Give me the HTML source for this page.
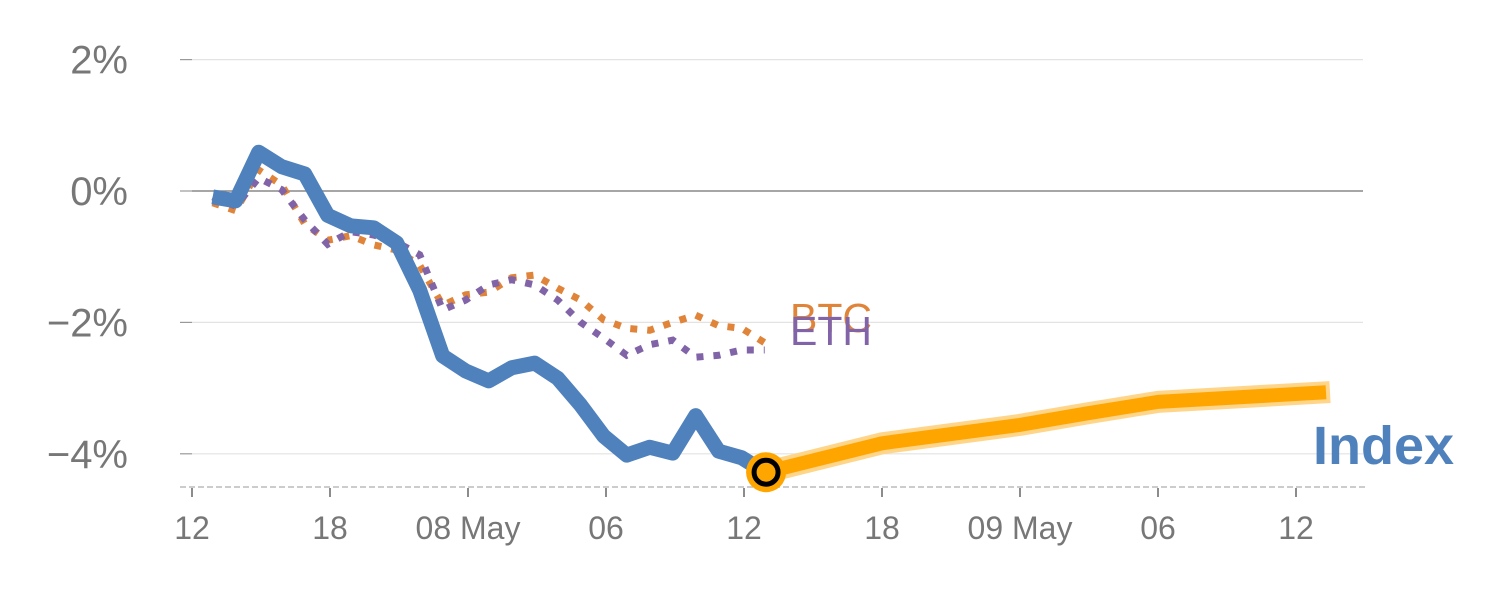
<!DOCTYPE html>
<html><head><meta charset="utf-8"><style>
body{margin:0;background:#fff;}
svg{display:block;font-family:"Liberation Sans",sans-serif;}
</style></head><body>
<svg id="chart" width="1500" height="600" viewBox="0 0 1500 600" xmlns="http://www.w3.org/2000/svg">
<g id="grid"></g>
<g id="xaxis"></g>
<g id="series"></g>
<text x="790" y="332" font-size="41" fill="#e0843a">BTC</text>
<text x="790" y="345" font-size="41" fill="#8163a8">ETH</text>
<text x="1313" y="464" font-size="54" font-weight="bold" fill="#4f81bd">Index</text>
</svg>
<script>
const yTicks=[2,0,-2,-4];
const yTickLabels=["2%","0%","\u22122%","\u22124%"];
const xTicks=[0,6,12,18,24,30,36,42,48];
const xTickLabels=["12","18","08 May","06","12","18","09 May","06","12"];
const indexVals=[-0.09,-0.15,0.59,0.37,0.26,-0.37,-0.53,-0.56,-0.79,-1.51,-2.51,-2.74,-2.89,-2.69,-2.62,-2.85,-3.26,-3.73,-4.02,-3.90,-3.99,-3.42,-3.96,-4.06,-4.28];
const btcVals=[-0.18,-0.30,0.32,0.09,-0.50,-0.75,-0.68,-0.82,-0.90,-1.13,-1.74,-1.58,-1.54,-1.32,-1.28,-1.48,-1.66,-1.96,-2.09,-2.12,-2.00,-1.89,-2.05,-2.09,-2.31];
const ethVals=[-0.09,-0.23,0.20,0.02,-0.44,-0.81,-0.62,-0.67,-0.78,-0.97,-1.81,-1.66,-1.43,-1.35,-1.43,-1.66,-2.00,-2.24,-2.50,-2.34,-2.27,-2.53,-2.50,-2.42,-2.42];
const fcHours=[24.96,30,36,39,42,49.0];
const fcVals=[-4.28,-3.84,-3.56,-3.38,-3.21,-3.07];
const startHour=0.9;
const NS="http://www.w3.org/2000/svg";
const X=h=>192+h*23;
const Y=v=>191-v*65.7;
function mk(tag,attrs,parent){const e=document.createElementNS(NS,tag);for(const k in attrs)e.setAttribute(k,attrs[k]);parent.appendChild(e);return e;}
const grid=document.getElementById('grid'),xa=document.getElementById('xaxis'),ser=document.getElementById('series');
yTicks.forEach((v,i)=>{
  const l=mk('line',{x1:192,x2:1363,y1:Y(v),y2:Y(v),stroke:v===0?'#888':'#e3e3e3','stroke-width':v===0?1.5:1.2},grid);
  
  
  const tk=mk('line',{x1:180,x2:192,y1:Y(v),y2:Y(v),stroke:'#999','stroke-width':1.2},grid);
  
  
  const t=mk('text',{x:128,y:Y(v)+14,'font-size':40,fill:'#777','text-anchor':'end'},grid);
  t.textContent=yTickLabels[i];
  
  
});
const base=mk('line',{x1:180,x2:1365,y1:487,y2:487,stroke:'#ccc','stroke-width':2,'stroke-dasharray':'6,3'},xa);


xTicks.forEach((h,i)=>{
  const tk=mk('line',{x1:X(h),x2:X(h),y1:488,y2:497,stroke:'#666','stroke-width':1.5},xa);
  
  
  const t=mk('text',{x:X(h),y:539,'font-size':32,fill:'#777','text-anchor':'middle'},xa);
  t.textContent=xTickLabels[i];
  
  
});
const pts=vals=>vals.map((v,i)=>X(startHour+i)+','+Y(v)).join(' ');
const btc=mk('polyline',{points:pts(btcVals),fill:'none',stroke:'#e0843a','stroke-width':7,'stroke-dasharray':'7,10'},ser);


const eth=mk('polyline',{points:pts(ethVals),fill:'none',stroke:'#8163a8','stroke-width':7,'stroke-dasharray':'7,10'},ser);


const idx=mk('polyline',{points:pts(indexVals),fill:'none',stroke:'#4f81bd','stroke-width':15,'stroke-linejoin':'round'},ser);


const fp=fcHours.map((h,i)=>X(h)+','+Y(fcVals[i])).join(' ');
const halo=mk('polyline',{points:fp,fill:'none',stroke:'#ffd58a','stroke-width':22,'stroke-linecap':'square','stroke-linejoin':'round'},ser);


const fc=mk('polyline',{points:fp,fill:'none',stroke:'#ffa500','stroke-width':14,'stroke-linecap':'square','stroke-linejoin':'round'},ser);


const c1=mk('circle',{cx:X(fcHours[0]),cy:Y(fcVals[0]),r:20,fill:'#ffa500'},ser);


const c2=mk('circle',{cx:X(fcHours[0]),cy:Y(fcVals[0]),r:12,fill:'#ffa500',stroke:'#000','stroke-width':5},ser);


</script>
</body></html>
